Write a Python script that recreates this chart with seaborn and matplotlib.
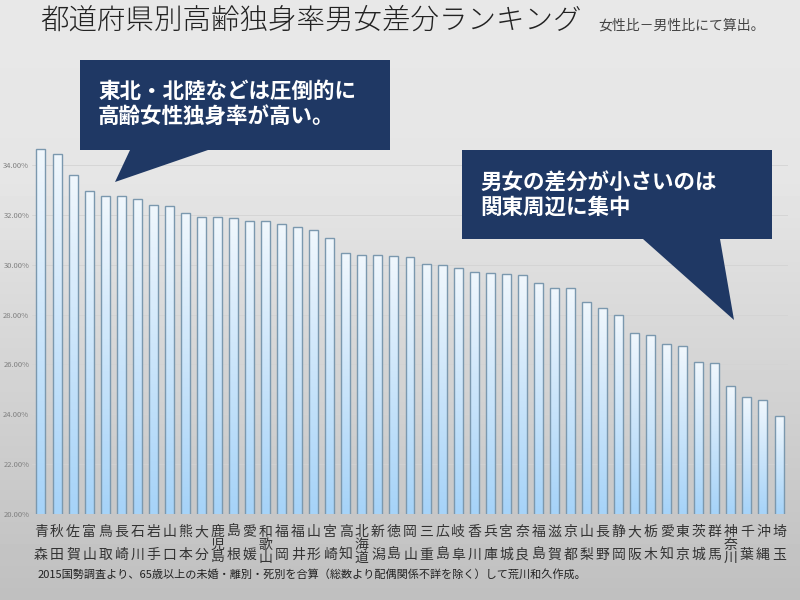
###########
# Imports #
###########
import numpy as np
import pandas as pd
import matplotlib
matplotlib.use('Agg')
import matplotlib.pyplot as plt
from matplotlib.patches import Polygon
from matplotlib.colors import LinearSegmentedColormap
from matplotlib.ticker import FuncFormatter
import seaborn as sns


########
# Data #
########
prefectures = ['青森', '秋田', '佐賀', '富山', '鳥取', '長崎', '石川', '岩手', '山口', '熊本',
               '大分', '鹿児島', '島根', '愛媛', '和歌山', '福岡', '福井', '山形', '宮崎', '高知',
               '北海道', '新潟', '徳島', '岡山', '三重', '広島', '岐阜', '香川', '兵庫', '宮城',
               '奈良', '福島', '滋賀', '京都', '山梨', '長野', '静岡', '大阪', '栃木', '愛知',
               '東京', '茨城', '群馬', '神奈川', '千葉', '沖縄', '埼玉']

# female rate - male rate (%)
diffs = [34.62, 34.45, 33.58, 32.95, 32.75, 32.75, 32.64, 32.40, 32.37, 32.08,
         31.92, 31.92, 31.87, 31.77, 31.77, 31.64, 31.50, 31.41, 31.08, 30.48,
         30.40, 30.40, 30.35, 30.30, 30.04, 29.97, 29.86, 29.70, 29.68, 29.64,
         29.57, 29.25, 29.07, 29.05, 28.52, 28.26, 27.99, 27.27, 27.17, 26.81,
         26.73, 26.09, 26.04, 25.13, 24.70, 24.57, 23.92]

y_ticks = [20, 22, 24, 26, 28, 30, 32, 34]

title = '都道府県別高齢独身率男女差分ランキング'
subtitle = '女性比－男性比にて算出。'
note1 = '東北・北陸などは圧倒的に\n高齢女性独身率が高い。'
note2 = '男女の差分が小さいのは\n関東周辺に集中'
footnote = '2015国勢調査より、65歳以上の未婚・離別・死別を合算（総数より配偶関係不詳を除く）して荒川和久作成。'


#############
# Functions #
#############
def _px(x, y):
    """ Pixel position (800x600, top-left origin) to figure fraction """
    return x / 800, 1 - y / 600


def _callout(fig, points):
    """ Dark speech bubble drawn from pixel corner points """
    poly = Polygon([_px(x, y) for x, y in points], closed=True,
                   transform=fig.transFigure, facecolor='#1f3864',
                   edgecolor='none', zorder=2)
    fig.add_artist(poly)


#########
# Begin #
#########
sns.set_style('white')
plt.rcParams['font.family'] = ['Noto Sans CJK JP', 'DejaVu Sans']

fig = plt.figure(figsize=(8, 6), dpi=100)

# Gray gradient background
bg = fig.add_axes([0, 0, 1, 1], zorder=-10)
levels = np.interp(np.linspace(0, 1, 300), [0, 0.3, 1], [0.91, 0.9, 0.75])
bg.imshow(levels[:, None], cmap='gray', vmin=0, vmax=1, aspect='auto',
          extent=[0, 1, 0, 1])
bg.axis('off')

ax = fig.add_axes([0.04, 0.1433, 0.945, 0.6234])
ax.patch.set_alpha(0)

data = pd.DataFrame({'pref': prefectures, 'diff': diffs})
sns.barplot(data=data, x='pref', y='diff', color='#b5dbf8', width=0.56,
            edgecolor='#7b98ae', linewidth=1.0, ax=ax)

# Fill each bar with a white-to-blue gradient
bar_cmap = LinearSegmentedColormap.from_list('bar', ['#f0f7fd', '#a6d3f8'])
grad = np.linspace(0, 1, 100)[:, None]
for patch in ax.patches:
    x0, w, h = patch.get_x(), patch.get_width(), patch.get_height()
    im = ax.imshow(grad, cmap=bar_cmap, aspect='auto',
                   extent=[x0, x0 + w, 20, h], zorder=patch.get_zorder() - 0.1)
    im.set_clip_path(patch)
    patch.set_facecolor('none')

ax.set_xlim(-0.56, 46.56)
ax.set_ylim(20, 35)
ax.set_yticks(y_ticks)
ax.yaxis.set_major_formatter(FuncFormatter(lambda v, p: f'{v:.2f}%'))
ax.tick_params(axis='y', labelsize=5.5, labelcolor='#808080', length=0, pad=2)
ax.yaxis.grid(True, color='#d3d3d3', lw=0.6)
ax.set_axisbelow(True)

# Vertical (one character per line) prefecture names
ax.set_xticks(range(len(prefectures)))
ax.set_xticklabels(['\n'.join(p) for p in prefectures], fontsize=10,
                   color='#333333', va='top')
for lab, p in zip(ax.get_xticklabels(), prefectures):
    lab.set_linespacing(0.9 if len(p) == 3 else 1.8)
ax.tick_params(axis='x', length=0, pad=8)
ax.set_xlabel('')
ax.set_ylabel('')
for s in ax.spines.values():
    s.set_visible(False)

# Speech bubbles
_callout(fig, [(80, 60), (390, 60), (390, 150), (208, 150), (115, 182),
               (130, 150), (80, 150)])
_callout(fig, [(462, 150), (772, 150), (772, 239), (720, 239), (734, 320),
               (643, 239), (462, 239)])
fig.text(*_px(98, 104), note1, color='white', fontsize=15.5, weight='bold',
         va='center', ha='left', linespacing=1.2, zorder=3)
fig.text(*_px(480, 195), note2, color='white', fontsize=15.5, weight='bold',
         va='center', ha='left', linespacing=1.2, zorder=3)

# Titles and source
fig.text(*_px(40, 20), title, fontsize=20.5, color='#222222', va='center',
         weight='light')
fig.text(*_px(598, 26), subtitle, fontsize=10, color='#444444', va='center')
fig.text(*_px(38, 574), footnote, fontsize=8, color='#222222', va='center')

fig.savefig('out.png', dpi=100)
